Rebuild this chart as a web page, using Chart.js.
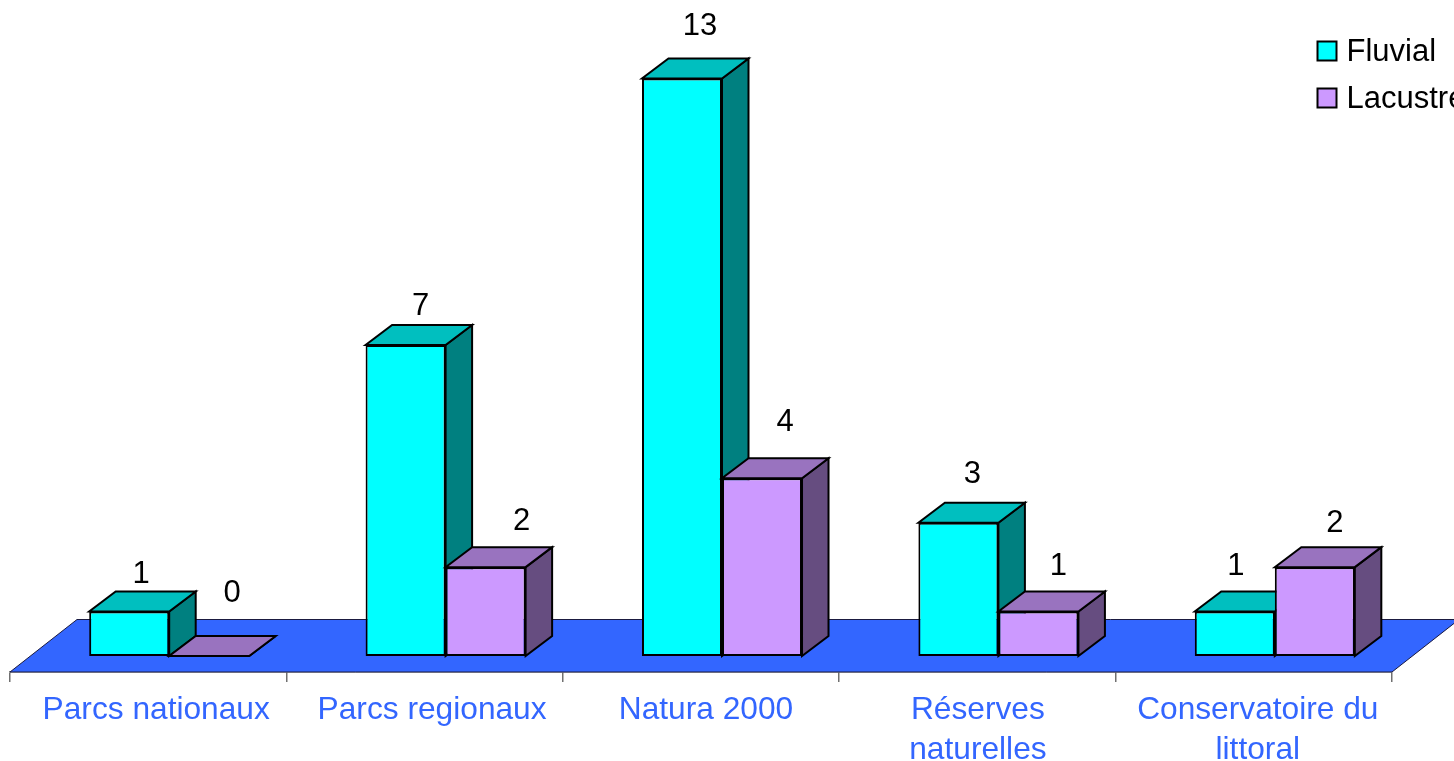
<!DOCTYPE html>
<html>
<head>
<meta charset="utf-8">
<style>html,body{margin:0;padding:0;background:#fff;overflow:hidden}#wrap{width:1454px;height:761px}</style>
<script src="https://cdn.jsdelivr.net/npm/chart.js@4"></script>
</head>
<body>
<div id="wrap"><canvas id="c" width="1454" height="761"></canvas></div>
<script>
const categories = ['Parcs nationaux', 'Parcs regionaux', 'Natura 2000', ['Réserves', 'naturelles'], ['Conservatoire du', 'littoral']];
const fluvial = [1, 7, 13, 3, 1];
const lacustre = [0, 2, 4, 1, 2];

// layout tuning, separate from the data
const tickLabelNudge = [8, 7.5, 5, 0.5, 4];
const fluvialLabelNudge = [[12, -37.5], [15, -38.5], [18, -51.5], [14, -48.5], [1, -45.5]];
const lacustreLabelNudge = [[23, -62.5], [36, -45.5], [23, -55.5], [20, -45.5], [20, -43.5]];
const depth = { x: 26.5, y: -20 };
const shift = { x: 21, y: -16 };
const floorDepth = { x: 67, y: -52.5 };
const FONT = '"Liberation Sans", Arial, sans-serif';

const faces = {
  Fluvial: { top: '#00BFBF', side: '#008080' },
  Lacustre: { top: '#9973BF', side: '#664D80' }
};
const nudges = { Fluvial: fluvialLabelNudge, Lacustre: lacustreLabelNudge };

function poly(ctx, pts, fill, stroke, lw) {
  ctx.beginPath();
  pts.forEach((p, i) => i ? ctx.lineTo(p[0], p[1]) : ctx.moveTo(p[0], p[1]));
  ctx.closePath();
  ctx.fillStyle = fill;
  ctx.fill();
  ctx.lineWidth = lw;
  ctx.strokeStyle = stroke;
  ctx.lineJoin = 'miter';
  ctx.stroke();
}

function drawFaces(chart, index) {
  const ctx = chart.ctx;
  const f = faces[chart.data.datasets[index].label];
  chart.getDatasetMeta(index).data.forEach(el => {
    const p = el.getProps(['x', 'y', 'base', 'width'], true);
    const l = p.x - p.width / 2, r = p.x + p.width / 2;
    poly(ctx, [[r, p.y], [r + depth.x, p.y + depth.y], [r + depth.x, p.base + depth.y], [r, p.base]], f.side, '#000', 2);
    poly(ctx, [[l, p.y], [r, p.y], [r + depth.x, p.y + depth.y], [l + depth.x, p.y + depth.y]], f.top, '#000', 2);
  });
}

const bars3d = {
  id: 'bars3d',
  afterLayout(chart) {
    const lg = chart.legend;
    lg.left = 1301.5; lg.top = 20.5; lg.right = 1600; lg.bottom = 200;
    lg.width = 298.5; lg.height = 179.5;
  },
  beforeDraw(chart) {
    chart.scales.x.getLabelItems().forEach((item, i) => {
      item.options.translation[0] += tickLabelNudge[i];
    });
  },
  beforeDatasetsDraw(chart) {
    const { ctx, chartArea: a } = chart;
    poly(ctx, [[a.left, a.bottom], [a.right, a.bottom],
      [a.right + floorDepth.x, a.bottom + floorDepth.y], [a.left + floorDepth.x, a.bottom + floorDepth.y]],
      '#3366FF', '#1a1a40', 1);
  },
  // Chart.js paints the later dataset first; the purple bars stand in front, so they wait until the end
  beforeDatasetDraw(chart, args) {
    if (args.index === 1) return false;
    chart.ctx.save();
    chart.ctx.translate(shift.x, shift.y);
    drawFaces(chart, args.index);
  },
  afterDatasetDraw(chart, args) {
    if (args.index !== 1) chart.ctx.restore();
  },
  afterDatasetsDraw(chart) {
    const ctx = chart.ctx;
    ctx.save();
    ctx.translate(shift.x, shift.y);
    drawFaces(chart, 1);
    chart.getDatasetMeta(1).controller.draw();
    ctx.restore();
  },
  afterDraw(chart) {
    const { ctx } = chart;
    const lg = chart.legend;
    ctx.save();
    chart.data.datasets.forEach((ds, i) => {
      const bx = lg.left + 16, by = lg.top + 21 + i * 47;
      ctx.fillStyle = ds.backgroundColor;
      ctx.fillRect(bx, by, 19, 19);
      ctx.strokeStyle = '#000';
      ctx.lineWidth = 2;
      ctx.strokeRect(bx, by, 19, 19);
    });
    ctx.fillStyle = '#000';
    ctx.font = '31px ' + FONT;
    ctx.textAlign = 'center';
    ctx.textBaseline = 'middle';
    chart.data.datasets.forEach((ds, i) => {
      chart.getDatasetMeta(i).data.forEach((el, j) => {
        const p = el.getProps(['x', 'y'], true);
        const n = nudges[ds.label][j];
        ctx.fillText(String(ds.data[j]), p.x + shift.x + n[0], p.y + shift.y + n[1]);
      });
    });
    ctx.restore();
  }
};

new Chart(document.getElementById('c'), {
  type: 'bar',
  data: {
    labels: categories,
    datasets: [
      { label: 'Fluvial', data: fluvial, backgroundColor: '#00FFFF', borderColor: '#000', borderWidth: 2, borderSkipped: false, clip: false },
      { label: 'Lacustre', data: lacustre, backgroundColor: '#CC99FF', borderColor: '#000', borderWidth: 2, borderSkipped: false, clip: false }
    ]
  },
  options: {
    responsive: false,
    animation: false,
    layout: { padding: { left: 10, right: 62, top: 50, bottom: 0 } },
    datasets: { bar: { categoryPercentage: 0.579, barPercentage: 1 } },
    plugins: {
      tooltip: { enabled: false },
      legend: {
        position: 'chartArea',
        align: 'start',
        labels: {
          boxWidth: 13.5,
          boxHeight: 14,
          padding: 16,
          color: '#000',
          font: { family: FONT, size: 31 },
          generateLabels(chart) {
            return chart.data.datasets.map((ds, i) => ({
              text: ds.label, datasetIndex: i, fillStyle: 'rgba(0,0,0,0)', strokeStyle: 'rgba(0,0,0,0)', lineWidth: 0, fontColor: '#000'
            }));
          }
        }
      }
    },
    scales: {
      y: { display: false, min: 0, max: 14 },
      x: {
        afterFit(s) { s.height = 89; },
        border: { display: true, color: '#808080', width: 1.5 },
        grid: { offset: true, drawOnChartArea: false, drawTicks: true, tickLength: 10, color: '#707070', lineWidth: 1.5 },
        ticks: {
          autoSkip: false, maxRotation: 0, minRotation: 0,
          color: '#3366FF', padding: 8,
          font: { family: FONT, size: 31.7, lineHeight: 1.262 }
        }
      }
    }
  },
  plugins: [bars3d]
});
</script>
</body>
</html>
